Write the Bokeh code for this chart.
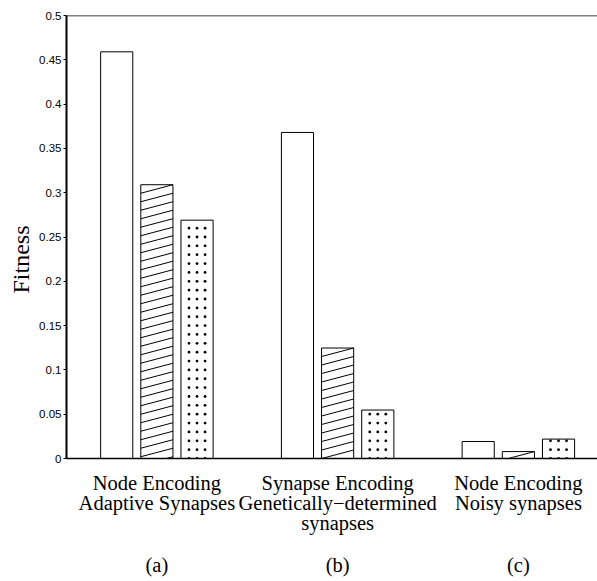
from bokeh.plotting import figure
from bokeh.models import FixedTicker, LinearAxis, Span, Title
from bokeh.embed import file_html
from bokeh.resources import INLINE

# ---- data ----
groups = [1, 2, 3]
group_labels = [
    "Node Encoding\nAdaptive Synapses",
    "Synapse Encoding\nGenetically\u2212determined\nsynapses",
    "Node Encoding\nNoisy synapses",
]
panel_labels = ["(a)", "(b)", "(c)"]
series_plain = [0.459, 0.368, 0.0192]
series_hatched = [0.309, 0.1247, 0.0078]
series_dotted = [0.269, 0.0547, 0.0219]
y_ticks = [0, 0.05, 0.1, 0.15, 0.2, 0.25, 0.3, 0.35, 0.4, 0.45, 0.5]
y_tick_labels = ["0", "0.05", "0.1", "0.15", "0.2", "0.25", "0.3", "0.35", "0.4", "0.45", "0.5"]

# ---- layout ----
W, H = 597, 581
ML, MR, MT, MB = 66, 0, 15, 123
X0, X1 = 0.5, 3.4378
Y0, Y1 = 0.0, 0.5
FW, FH = W - ML - MR, H - MT - MB
PXX = FW / (X1 - X0)
PXY = FH / (Y1 - Y0)

BW = 0.1778
OFF = 0.2222

p = figure(width=W, height=H, x_range=(X0, X1), y_range=(Y0, Y1),
           output_backend="svg", toolbar_location=None,
           x_axis_location=None, y_axis_location=None,
           min_border_left=ML, min_border_right=MR, min_border_top=MT, min_border_bottom=MB)
p.title.visible = False
p.outline_line_color = None
p.background_fill_color = "white"
p.border_fill_color = "white"
p.grid.visible = False

# y axis
yaxis = LinearAxis(ticker=FixedTicker(ticks=y_ticks),
                   major_label_overrides=dict(zip(y_ticks, y_tick_labels)))
yaxis.axis_line_width = 2
yaxis.axis_line_color = "black"
yaxis.major_tick_in = 0
yaxis.major_tick_out = 3
yaxis.major_tick_line_color = "black"
yaxis.minor_tick_line_color = None
yaxis.major_label_standoff = 2
yaxis.major_label_text_font = "Liberation Sans"
yaxis.major_label_text_font_size = "11.5px"
yaxis.major_label_text_color = "black"
p.add_layout(yaxis, "left")

# y axis title (as a side title so it can be offset along the axis)
ytitle = Title(text="Fitness", align="left", offset=165, vertical_align="middle",
               standoff=4, text_font="Liberation Serif", text_font_size="24px",
               text_font_style="normal", text_color="black")
p.add_layout(ytitle, "left")

# x axis with group labels
xaxis1 = LinearAxis(ticker=FixedTicker(ticks=groups),
                    major_label_overrides=dict(zip(groups, group_labels)))
xaxis1.axis_line_width = 1.5
xaxis1.axis_line_color = "black"
xaxis1.major_tick_line_color = None
xaxis1.major_tick_in = 0
xaxis1.major_tick_out = 0
xaxis1.minor_tick_line_color = None
xaxis1.major_label_standoff = 13
xaxis1.major_label_text_font = "Liberation Serif"
xaxis1.major_label_text_font_size = "20.5px"
xaxis1.major_label_text_color = "black"
xaxis1.major_label_text_line_height = 0.92
p.add_layout(xaxis1, "below")

xaxis2 = LinearAxis(ticker=FixedTicker(ticks=groups),
                    major_label_overrides=dict(zip(groups, panel_labels)))
xaxis2.axis_line_color = None
xaxis2.major_tick_line_color = None
xaxis2.major_tick_in = 0
xaxis2.major_tick_out = 0
xaxis2.minor_tick_line_color = None
xaxis2.major_label_standoff = 17
xaxis2.major_label_text_font = "Liberation Serif"
xaxis2.major_label_text_font_size = "20.5px"
xaxis2.major_label_text_color = "black"
p.add_layout(xaxis2, "below")

# top border
p.add_layout(Span(location=Y1, dimension="width", line_color="black", line_width=1.5))

# bars
x_plain = [g - OFF for g in groups]
x_hatch = list(groups)
x_dot = [g + OFF for g in groups]
for xs, vals in ((x_plain, series_plain), (x_hatch, series_hatched), (x_dot, series_dotted)):
    p.vbar(x=xs, top=vals, width=BW, bottom=0, fill_color="white",
           line_color="black", line_width=1)

# hatch lines for middle series
step = 8.5 / PXY
sx0, sy0, sx1, sy1 = [], [], [], []
for xc, h in zip(x_hatch, series_hatched):
    xl, xr = xc - BW / 2, xc + BW / 2
    k = 0
    while True:
        yr = h - k * step
        yl = h - (k + 1) * step
        if yr <= 0:
            break
        ax, ay = xl, yl
        if yl < 0:
            ax = xl + (0 - yl) / (yr - yl) * (xr - xl)
            ay = 0.0
        sx0.append(ax); sy0.append(ay); sx1.append(xr); sy1.append(yr)
        k += 1
p.segment(x0=sx0, y0=sy0, x1=sx1, y1=sy1, line_color="black", line_width=1)

# dots for right series
dstep = 0.01
dx, dy = [], []
for xc, h in zip(x_dot, series_dotted):
    xl = xc - BW / 2
    k = 0
    while k * dstep <= h - 1.0 / PXY:
        for f in (0.25, 0.5, 0.75):
            dx.append(xl + f * BW)
            dy.append(k * dstep)
        k += 1
p.scatter(x=dx, y=dy, size=2.8, marker="circle", fill_color="black", line_color=None)

open("out.html", "w").write(file_html(p, INLINE))
